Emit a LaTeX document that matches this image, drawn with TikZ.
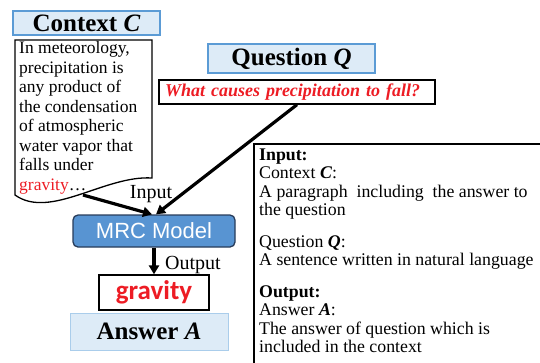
\documentclass[tikz,border=0pt]{standalone}
\usepackage{fontspec}
\setmainfont{Liberation Serif}
\newfontfamily\arialf{Liberation Sans}
\newfontfamily\calf{Carlito}
\usetikzlibrary{arrows.meta}
\definecolor{tfill}{RGB}{221,235,247}
\definecolor{tborder}{RGB}{91,155,213}
\definecolor{aborder}{RGB}{170,205,235}
\definecolor{mrcfill}{RGB}{88,148,210}
\definecolor{mrcdraw}{RGB}{40,60,90}
\definecolor{redt}{RGB}{237,28,36}
\tikzset{
  titlebox/.style={draw=tborder, fill=tfill, line width=1.2pt, inner sep=0pt, font=\fontsize{25}{28}\selectfont\bfseries},
  plainbox/.style={draw=black, line width=1.3pt, inner sep=0pt},
  arr/.style={line width=3.2pt, -{Triangle[length=9pt,width=10pt]}, shorten >=0pt},
  lbl/.style={font=\fontsize{20}{22}\selectfont, inner sep=0pt},
}
\begin{document}
\begin{tikzpicture}[x=1pt,y=-1pt]
\useasboundingbox (0,0) rectangle (540,362);
\clip (0,0) rectangle (540,362);
% Context title
\node[titlebox, minimum width=147pt, minimum height=24pt] (ctitle) at (86.5,23) {Context \textit{C}};
% Context document shape
\draw[line width=1.3pt] (152,178) -- (152,40) -- (15,40) -- (15,195) .. controls (50,220) and (105,175) .. cycle;
\node[anchor=north west, inner sep=0pt, align=left, font=\fontsize{17.5}{19.5}\selectfont] (ctext) at (19,41.5)
  {In meteorology,\\ precipitation is\\ any product of\\ the condensation\\ of atmospheric\\ water vapor that\\ falls under\\ \textcolor{redt}{gravity}\ldots};
\coordinate (ctxout) at (83,195);
% Question title
\node[titlebox, minimum width=167pt, minimum height=29pt] (qtitle) at (291.5,58.5) {Question \textit{Q}};
% Question text
\node[plainbox, minimum height=24pt, text width=264pt, inner xsep=6pt, align=left, font=\fontsize{18}{20}\selectfont\bfseries\itshape, text=redt] (qtext) at (297,92) {What causes precipitation to fall?};
% MRC Model
\node[draw=mrcdraw, fill=mrcfill, line width=1.3pt, rounded corners=5pt, minimum width=162pt, minimum height=32pt, inner sep=0pt, text=white, font=\arialf\fontsize{22}{24}\selectfont] (mrc) at (154,231) {MRC Model};
% gravity
\node[plainbox, minimum width=110pt, minimum height=35pt, text=redt, font=\calf\fontsize{27}{29}\selectfont\bfseries] (grav) at (154,292.5) {gravity};
% Answer
\node[titlebox, draw=aborder, line width=0.8pt, minimum width=158pt, minimum height=37pt] (ans) at (149,331.5) {Answer \textit{A}};
% arrows
\draw[arr] (ctxout) -- ([xshift=-2pt]mrc.north);
\draw[arr] (qtext.south) -- ([xshift=2pt]mrc.north);
\draw[arr] (mrc.south) -- (grav.north);
\node[lbl] (inlbl) at (151,194) {Input};
\node[lbl] (outlbl) at (193,265) {Output};
% right box
\draw[line width=2.6pt] (545,144) -- (254,144) -- (254,370);
\node[anchor=north west, inner sep=0pt, align=left, font=\fontsize{17.8}{18.5}\selectfont] (desc) at (259,148.5)
  {\textbf{Input:}\\ Context \textbf{\textit{C}}:\\ A paragraph\ \ including\ \ the answer to\\ the question\\[13pt]
   Question \textbf{\textit{Q}}:\\ A sentence written in natural language\\[13pt]
   \textbf{Output:}\\ Answer \textbf{\textit{A}}:\\ The answer of question which is\\ included in the context};
\end{tikzpicture}
\end{document}
